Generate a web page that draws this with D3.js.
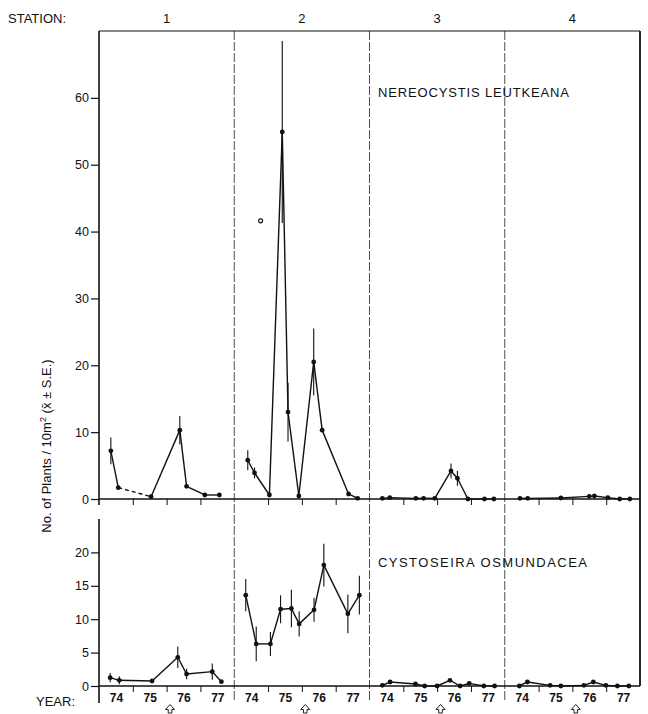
<!DOCTYPE html>
<html>
<head>
<meta charset="utf-8">
<script src="https://cdn.jsdelivr.net/npm/d3@7"></script>
<style>
  body { margin: 0; background: #fff; }
  svg { font-family: "Liberation Sans", Arial, sans-serif; }
</style>
</head>
<body>
<svg id="chart" width="648" height="714"></svg>
<script>
const stations = [1, 2, 3, 4];
const years = [74, 75, 76, 77];
const topTicks = [0, 10, 20, 30, 40, 50, 60];
const bottomTicks = [0, 5, 10, 15, 20];

// [year, mean, s.e.]  Nereocystis leutkeana
const nereo1 = [[74.35, 7.2, 2.0], [74.57, 1.7, 0], [75.54, 0.35, 0], [76.39, 10.3, 2.1], [76.59, 1.9, 0], [77.13, 0.6, 0], [77.56, 0.6, 0]];
const nereo2 = [[74.40, 5.8, 1.5], [74.60, 3.9, 0.8], [75.04, 0.6, 0], [75.42, 54.9, 13.6], [75.59, 13.0, 4.4], [75.91, 0.45, 0], [76.35, 20.5, 5.0], [76.60, 10.3, 0], [77.38, 0.75, 0], [77.65, 0.1, 0]];
const nereo3 = [[74.38, 0.1, 0], [74.60, 0.2, 0], [75.37, 0.1, 0], [75.60, 0.1, 0], [75.93, 0.1, 0], [76.41, 4.2, 1.1], [76.60, 3.1, 1.1], [76.91, 0, 0], [77.40, 0, 0], [77.68, 0, 0]];
const nereo4 = [[74.45, 0.1, 0], [74.68, 0.1, 0], [75.66, 0.15, 0], [76.50, 0.4, 0], [76.65, 0.45, 0], [77.05, 0.2, 0], [77.40, 0, 0], [77.70, 0, 0]];
// segments drawn dashed: [station, index of first point]
const nereoDashed = [[1, 1]];
// open-circle outlier: [station, year, value]
const nereoOpen = [[2, 74.78, 41.6]];

// Cystoseira osmundacea
const cysto1 = [[74.33, 1.25, 0.7], [74.60, 0.85, 0.6], [75.57, 0.75, 0.3], [76.33, 4.3, 1.6], [76.59, 1.8, 0.8], [77.35, 2.15, 1.2], [77.62, 0.65, 0]];
const cysto2 = [[74.34, 13.6, 2.4], [74.65, 6.3, 2.6], [75.07, 6.3, 1.8], [75.37, 11.5, 2.1], [75.69, 11.6, 2.8], [75.92, 9.3, 1.9], [76.36, 11.4, 1.8], [76.65, 18.1, 3.2], [77.36, 10.8, 2.9], [77.70, 13.6, 2.9]];
const cysto3 = [[74.38, 0.1, 0], [74.61, 0.6, 0], [75.36, 0.3, 0], [75.63, 0, 0], [76.00, 0, 0], [76.38, 0.85, 0], [76.68, 0, 0], [76.95, 0.4, 0], [77.38, 0, 0], [77.70, 0, 0]];
const cysto4 = [[74.43, 0, 0], [74.67, 0.6, 0], [75.34, 0.1, 0], [75.66, 0, 0], [76.34, 0.1, 0], [76.62, 0.6, 0], [76.99, 0.1, 0], [77.33, 0, 0], [77.67, 0, 0]];

const arrowYear = 76.1;

const svg = d3.select("#chart");
const left = 99, right = 640;
const topY0 = 31, topY1 = 499, botY0 = 519, botY1 = 686;

let stationScale = d3.scaleBand().domain(stations).range([left, right]).padding(0);
let bw = stationScale.bandwidth();
let xFor = s => d3.scaleLinear().domain([74, 78]).range([stationScale(s), stationScale(s) + bw]);

let yTop = d3.scaleLinear().domain([0, 70]).range([topY1, topY0]);
let yBot = d3.scaleLinear().domain([0, 25]).range([botY1, botY0]);

// station dividers
stations.slice(1).forEach(s => {
  svg.append("line")
     .attr("x1", stationScale(s)).attr("x2", stationScale(s))
     .attr("y1", topY0).attr("y2", 702)
     .attr("stroke", "#222").attr("stroke-width", 0.8)
     .attr("stroke-dasharray", "9,2");
});

// frame: top and right
svg.append("line").attr("x1", left).attr("x2", right).attr("y1", topY0).attr("y2", topY0)
   .attr("stroke", "#111").attr("stroke-width", 1.2);
svg.append("line").attr("x1", right).attr("x2", right).attr("y1", topY0).attr("y2", botY1)
   .attr("stroke", "#111").attr("stroke-width", 1.8);

// y axes
function yAxis(scale, ticks, y0, y1) {
  let g = svg.append("g").attr("transform", "translate(" + left + ",0)")
             .call(d3.axisLeft(scale).tickValues(ticks).tickSize(8).tickSizeOuter(0).tickPadding(2));
  g.select(".domain").remove();
  g.append("line").attr("x1", 0).attr("x2", 0).attr("y1", y0).attr("y2", y1)
   .attr("stroke", "#111").attr("stroke-width", 1.6);
  g.selectAll(".tick line").attr("stroke", "#111").attr("stroke-width", 1.2);
  g.selectAll(".tick text").attr("font-size", 12.5).attr("fill", "#111");
}
yAxis(yTop, topTicks, topY0, topY1 + 6);
yAxis(yBot, bottomTicks, botY0, 703);

// x baselines and year ticks
[[yTop, topY1, false], [yBot, botY1, true]].forEach(([sc, yy, labels]) => {
  svg.append("line").attr("x1", left).attr("x2", right).attr("y1", yy).attr("y2", yy)
     .attr("stroke", "#111").attr("stroke-width", 1.6);
  stations.forEach(s => {
    let x = xFor(s);
    let g = svg.append("g").attr("transform", "translate(0," + yy + ")")
               .call(d3.axisBottom(x).tickValues([75, 76, 77]).tickSize(6).tickFormat(""));
    g.select(".domain").remove();
    g.selectAll(".tick line").attr("stroke", "#111").attr("stroke-width", 1);
    if (labels) {
      let gl = svg.append("g").attr("transform", "translate(0," + yy + ")")
                  .call(d3.axisBottom(x).tickValues(years.map(d => d + 0.5)).tickSize(0)
                        .tickPadding(7).tickFormat(d => Math.floor(d)));
      gl.select(".domain").remove();
      gl.selectAll(".tick text").attr("font-size", 12).attr("font-weight", "bold").attr("fill", "#111");
      // arrow marker
      svg.append("path")
         .attr("transform", "translate(" + x(arrowYear) + ",709)")
         .attr("d", "M0,-4.5 L4.5,0.5 L1.8,0.5 L1.8,4 L-1.8,4 L-1.8,0.5 L-4.5,0.5 Z")
         .attr("fill", "none").attr("stroke", "#222").attr("stroke-width", 1);
    }
  });
});

// series
function drawSeries(list, yScale, dashed) {
  list.forEach((data, i) => {
    let s = stations[i];
    let x = xFor(s);
    let line = d3.line().x(d => x(d[0])).y(d => yScale(d[1]));
    for (let k = 0; k < data.length - 1; k++) {
      let isDashed = dashed.some(d => d[0] === s && d[1] === k);
      svg.append("path")
         .attr("d", line([data[k], data[k + 1]]))
         .attr("fill", "none").attr("stroke", "#111").attr("stroke-width", 1.4)
         .attr("stroke-dasharray", isDashed ? "4,3" : null);
    }
    svg.selectAll(null).data(data.filter(d => d[2] > 0)).enter()
       .append("line")
       .attr("x1", d => x(d[0])).attr("x2", d => x(d[0]))
       .attr("y1", d => yScale(d[1] - d[2])).attr("y2", d => yScale(d[1] + d[2]))
       .attr("stroke", "#111").attr("stroke-width", 1.1);
    svg.selectAll(null).data(data).enter()
       .append("circle")
       .attr("cx", d => x(d[0])).attr("cy", d => yScale(d[1]))
       .attr("r", 2.4).attr("fill", "#111");
  });
}
drawSeries([nereo1, nereo2, nereo3, nereo4], yTop, nereoDashed);
drawSeries([cysto1, cysto2, cysto3, cysto4], yBot, []);

nereoOpen.forEach(([s, t, v]) => {
  svg.append("circle").attr("cx", xFor(s)(t)).attr("cy", yTop(v)).attr("r", 2)
     .attr("fill", "#fff").attr("stroke", "#111").attr("stroke-width", 1.1);
});

// texts
svg.append("text").attr("x", 8).attr("y", 23).attr("font-size", 13).attr("fill", "#111").text("STATION:");
svg.selectAll(null).data(stations).enter().append("text")
   .attr("x", d => stationScale(d) + bw / 2).attr("y", 23)
   .attr("text-anchor", "middle").attr("font-size", 13).attr("fill", "#111").text(d => d);

svg.append("text").attr("x", 378).attr("y", 97).attr("font-size", 13).attr("fill", "#111")
   .attr("textLength", 191).attr("lengthAdjust", "spacing").text("NEREOCYSTIS LEUTKEANA");
svg.append("text").attr("x", 378).attr("y", 567).attr("font-size", 13).attr("fill", "#111")
   .attr("textLength", 209).attr("lengthAdjust", "spacing").text("CYSTOSEIRA OSMUNDACEA");

svg.append("text").attr("x", 36).attr("y", 706).attr("font-size", 13).attr("fill", "#111").text("YEAR:");

let yl = svg.append("text")
            .attr("transform", "translate(51,446) rotate(-90)")
            .attr("text-anchor", "middle").attr("font-size", 13).attr("fill", "#111");
yl.append("tspan").text("No. of Plants / 10m");
yl.append("tspan").attr("dy", -5).attr("font-size", 9).text("2");
yl.append("tspan").attr("dy", 5).text("  (x\u0304 \u00B1 S.E.)");
</script>
</body>
</html>
